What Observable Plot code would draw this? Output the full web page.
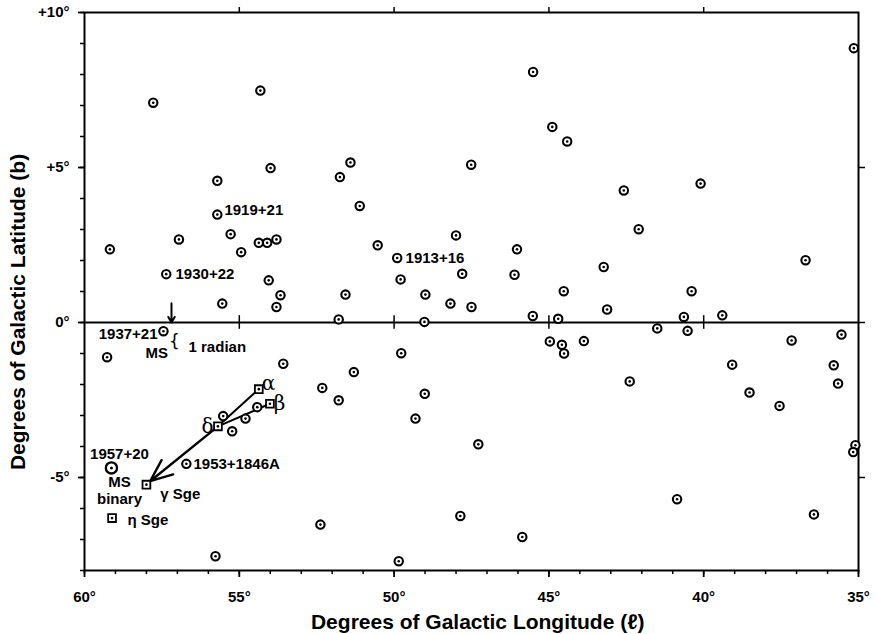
<!DOCTYPE html>
<html>
<head>
<meta charset="utf-8">
<script src="https://cdn.jsdelivr.net/npm/d3@7"></script>
<script src="https://cdn.jsdelivr.net/npm/@observablehq/plot@0.6"></script>
<style>
  html, body { margin: 0; padding: 0; background: #fff; }
  #chart svg { display: block; }
</style>
</head>
<body>
<div id="chart"></div>
<script>
// Pulsars (circles) – galactic longitude / latitude in degrees
const circleLon = [57.78,54.32,53.99,55.71,55.71,55.28,56.95,59.18,54.94,54.37,54.10,53.80,57.36,54.05,53.67,55.55,53.80,57.45,
  45.51,44.89,44.41,51.41,51.75,47.51,51.11,50.53,48.00,46.03,49.90,49.79,47.80,46.11,51.57,48.99,44.52,48.18,47.50,51.79,49.02,45.52,44.70,
  35.15,42.58,40.10,42.10,36.71,43.23,40.39,43.12,40.64,39.40,41.50,40.52,43.87,44.97,44.58,44.51,42.39,39.08,37.16,35.55,35.80,35.66,38.52,37.55,35.10,35.17,40.86,36.44,
  49.77,53.58,51.30,52.32,51.79,49.01,49.31,47.28,47.86,45.86,52.38,49.85,59.27,54.42,55.52,54.80,55.23,56.71,55.77];
const circleLat = [7.09,7.48,4.98,4.57,3.48,2.85,2.68,2.36,2.27,2.57,2.57,2.68,1.56,1.36,0.88,0.61,0.50,-0.28,
  8.08,6.31,5.84,5.16,4.69,5.09,3.76,2.49,2.81,2.36,2.08,1.39,1.57,1.54,0.90,0.90,1.01,0.61,0.50,0.10,0.02,0.21,0.12,
  8.85,4.26,4.48,3.01,2.01,1.79,1.01,0.42,0.18,0.23,-0.19,-0.27,-0.60,-0.61,-0.72,-1.00,-1.90,-1.36,-0.58,-0.39,-1.38,-1.97,-2.26,-2.69,-3.96,-4.18,-5.70,-6.19,
  -0.99,-1.33,-1.60,-2.11,-2.51,-2.30,-3.10,-3.93,-6.24,-6.92,-6.52,-7.70,-1.12,-2.73,-3.02,-3.10,-3.51,-4.56,-7.54];

// MS binary 1957+20 (larger circle)
const binaryLon = [59.13];
const binaryLat = [-4.69];

// Stars of Sagitta (squares)
const starNames = ["α", "β", "δ", "γ Sge", "η Sge"];
const starLon = [54.37, 54.01, 55.69, 58.00, 59.11];
const starLat = [-2.15, -2.62, -3.35, -5.23, -6.31];

// Arrow of Sagitta: segments between stars
const segFromLon = [54.37, 54.01];
const segFromLat = [-2.15, -2.62];
const segToLon = [55.69, 55.69];
const segToLat = [-3.35, -3.35];
const headFromLon = [55.69];
const headFromLat = [-3.35];
const headToLon = [57.88];
const headToLat = [-5.12];

// "1 radian" marker
const radianLon = [57.19];
const radianTop = [0.62];
const radianBottom = [0.0];
const braceLat = [-0.62];

// Sans labels
const labelText = ["1919+21", "1930+22", "1913+16", "1 radian", "1953+1846A", "γ Sge", "η Sge"];
const labelLon = [55.48, 57.06, 49.63, 56.64, 56.48, 57.55, 58.61];
const labelLat = [3.63, 1.56, 2.08, -0.79, -4.56, -5.53, -6.37];

const labelEndText = ["1937+21"];
const labelEndLon = [57.64];
const labelEndLat = [-0.37];

const labelMidText = ["MS", "1957+20", "MS", "binary"];
const labelMidLon = [57.67, 58.87, 58.87, 58.87];
const labelMidLat = [-0.98, -4.24, -5.15, -5.69];

// Greek letters
const greekText = ["α", "β", "δ"];
const greekLon = [54.06, 53.70, 56.03];
const greekLat = [-1.98, -2.63, -3.37];
const greekAnchor = ["start", "start", "end"];

// Axes
const xMajor = [60, 55, 50, 45, 40, 35];
const xMinor = d3.range(35, 61);
const yMajor = [10, 5, 0, -5];
const yMinor = d3.range(-8, 11);
const crossLon = [55, 50, 45, 40];

const circles = circleLon.map((x, i) => ({x, y: circleLat[i]}));
const binary = binaryLon.map((x, i) => ({x, y: binaryLat[i]}));
const stars = starLon.map((x, i) => ({name: starNames[i], x, y: starLat[i]}));
const segs = segFromLon.map((x1, i) => ({x1, y1: segFromLat[i], x2: segToLon[i], y2: segToLat[i]}));
const heads = headFromLon.map((x1, i) => ({x1, y1: headFromLat[i], x2: headToLon[i], y2: headToLat[i]}));
const radian = radianLon.map((x, i) => ({x1: x, x2: x, y1: radianTop[i], y2: radianBottom[i]}));
const brace = radianLon.map((x, i) => ({x, y: braceLat[i]}));
const labels = labelText.map((t, i) => ({t, x: labelLon[i], y: labelLat[i]}));
const labelsEnd = labelEndText.map((t, i) => ({t, x: labelEndLon[i], y: labelEndLat[i]}));
const labelsMid = labelMidText.map((t, i) => ({t, x: labelMidLon[i], y: labelMidLat[i]}));
const greek = greekText.map((t, i) => ({t, x: greekLon[i], y: greekLat[i], a: greekAnchor[i]}));

const SANS = "'Liberation Sans', Arial, sans-serif";
const yFmt = d => d > 0 ? `+${d}°` : `${d}°`;

const chart = Plot.plot({
  width: 878,
  height: 634,
  marginTop: 12,
  marginRight: 20,
  marginBottom: 64,
  marginLeft: 84,
  style: {fontFamily: SANS, background: "#fff", color: "#000"},
  x: {domain: [60, 35]},
  y: {domain: [-8, 10]},
  marks: [
    // minor and major ticks
    Plot.axisX({ticks: xMinor, tickSize: 4, strokeWidth: 1.5, tickFormat: () => "", label: null}),
    Plot.axisX({ticks: xMajor, tickSize: 7, strokeWidth: 1.8, tickPadding: 14, tickFormat: d => `${d}°`, fontSize: 15, fontWeight: "bold", label: null}),
    Plot.axisX({anchor: "top", ticks: crossLon, tickSize: 6, strokeWidth: 1.5, tickFormat: () => "", label: null}),
    Plot.axisY({ticks: yMinor, tickSize: 4, strokeWidth: 1.5, tickFormat: () => "", label: null}),
    Plot.axisY({ticks: yMajor, tickSize: 6, strokeWidth: 1.8, tickPadding: 9, tickFormat: yFmt, fontSize: 15, fontWeight: "bold", label: null}),
    Plot.axisY({anchor: "right", ticks: [5, 0, -5], tickSize: 6, strokeWidth: 1.5, tickFormat: () => "", label: null}),
    Plot.frame({stroke: "#000", strokeWidth: 2}),
    Plot.ruleY([0], {stroke: "#000", strokeWidth: 2}),
    Plot.ruleX(crossLon, {y1: -0.22, y2: 0.22, stroke: "#000", strokeWidth: 1.5}),
    // axis titles
    Plot.text(["Degrees of Galactic Longitude (ℓ)"], {x: 47.3, frameAnchor: "bottom", dy: 52, textAnchor: "middle", lineAnchor: "middle", fontSize: 21, fontWeight: "bold", fill: "#000"}),
    Plot.text(["Degrees of Galactic Latitude (b)"], {y: 0.34, frameAnchor: "left", dx: -66, rotate: -90, textAnchor: "middle", lineAnchor: "middle", fontSize: 21, fontWeight: "bold", fill: "#000"}),
    // Sagitta lines
    Plot.link(segs, {x1: "x1", y1: "y1", x2: "x2", y2: "y2", stroke: "#000", strokeWidth: 2}),
    Plot.arrow(heads, {x1: "x1", y1: "y1", x2: "x2", y2: "y2", stroke: "#000", strokeWidth: 2.4, headLength: 15, headAngle: 45}),
    Plot.arrow(radian, {x1: "x1", y1: "y1", x2: "x2", y2: "y2", stroke: "#000", strokeWidth: 2, headLength: 10, headAngle: 60}),
    Plot.text(brace, {x: "x", y: "y", text: () => "{", dx: 3, fontSize: 17, fontFamily: "'DejaVu Sans', sans-serif", fill: "#000"}),
    // pulsars
    Plot.dot(circles, {x: "x", y: "y", r: 4.2, stroke: "#000", strokeWidth: 2.1, fill: "#fff"}),
    Plot.dot(circles, {x: "x", y: "y", r: 1.3, fill: "#000"}),
    Plot.dot(binary, {x: "x", y: "y", r: 5.6, stroke: "#000", strokeWidth: 2.3, fill: "#fff"}),
    Plot.dot(binary, {x: "x", y: "y", r: 1.5, fill: "#000"}),
    // stars
    Plot.dot(stars, {x: "x", y: "y", symbol: "square", r: 4.4, stroke: "#000", strokeWidth: 1.8, fill: "#fff"}),
    Plot.dot(stars, {x: "x", y: "y", r: 1.3, fill: "#000"}),
    // labels
    Plot.text(labels, {x: "x", y: "y", text: "t", textAnchor: "start", fontSize: 15, fontWeight: "bold", fill: "#000"}),
    Plot.text(labelsEnd, {x: "x", y: "y", text: "t", textAnchor: "end", fontSize: 15, fontWeight: "bold", fill: "#000"}),
    Plot.text(labelsMid, {x: "x", y: "y", text: "t", textAnchor: "middle", fontSize: 15, fontWeight: "bold", fill: "#000"}),
    Plot.text(greek, {x: "x", y: "y", text: "t", textAnchor: d => d.a, fontSize: 20, fontFamily: "'DejaVu Serif', 'Liberation Serif', serif", fill: "#000"})
  ]
});

document.getElementById("chart").appendChild(chart);
</script>
</body>
</html>
